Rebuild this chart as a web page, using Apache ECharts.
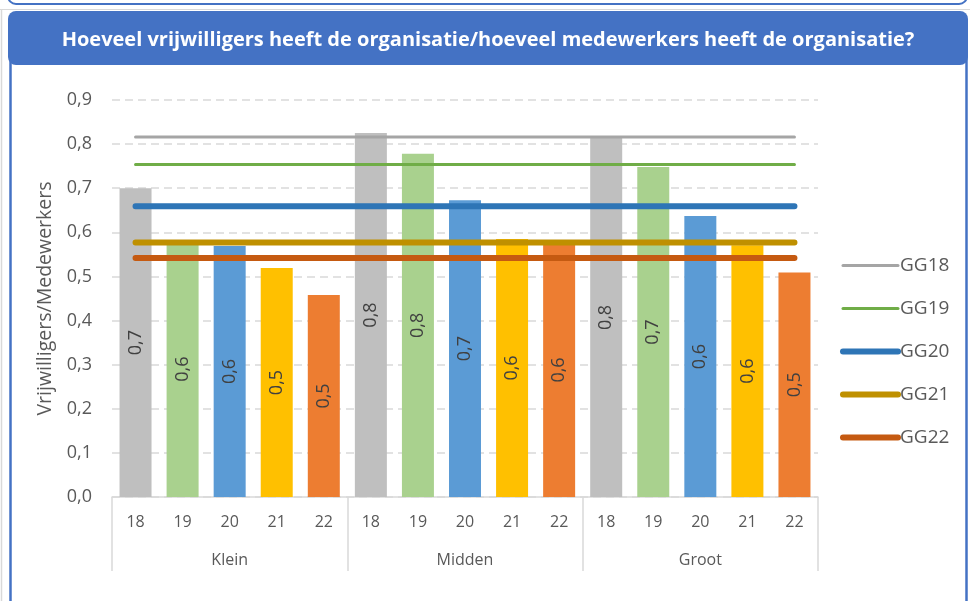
<!DOCTYPE html>
<html>
<head>
<meta charset="utf-8">
<style>
  html, body { margin: 0; padding: 0; background: #ffffff; }
  #chart { width: 970px; height: 601px; }
</style>
<script src="https://cdn.jsdelivr.net/npm/echarts@6/dist/echarts.min.js"></script>
</head>
<body>
<div id="chart"></div>
<script>
// Jaren (GG18 t/m GG22) en organisatiegrootte
const years = ['18', '19', '20', '21', '22'];
const groups = ['Klein', 'Midden', 'Groot'];

// Verhouding vrijwilligers/medewerkers per groep en jaar
const kleinValues  = [0.70, 0.58, 0.569, 0.519, 0.458];
const middenValues = [0.825, 0.778, 0.673, 0.585, 0.576];
const grootValues  = [0.814, 0.748, 0.637, 0.571, 0.509];

// Landelijk gemiddelde per jaar
const seriesNames = ['GG18', 'GG19', 'GG20', 'GG21', 'GG22'];
const averageValues = [0.816, 0.754, 0.659, 0.577, 0.542];

// Y-as
const yTicks = ['0,0', '0,1', '0,2', '0,3', '0,4', '0,5', '0,6', '0,7', '0,8', '0,9'];

const barColors  = ['#BFBFBF', '#A9D18E', '#5B9BD5', '#FFC000', '#ED7D31'];
const lineColors = ['#A5A5A5', '#70AD47', '#2E75B6', '#BF9000', '#C55A11'];
const lineWidths = [3, 3, 6, 6, 6];

const FONT = '"Open Sans", "Liberation Sans", sans-serif';
const TEXT = '#595959';

const categories = [];
groups.forEach(() => years.forEach(y => categories.push(y)));
const barValues = [].concat(kleinValues, middenValues, grootValues);

const barData = barValues.map((v, i) => ({
  value: v,
  itemStyle: { color: barColors[i % years.length] }
}));

const lineSeries = seriesNames.map((name, k) => ({
  name: name,
  type: 'line',
  xAxisIndex: 0,
  data: categories.map(() => averageValues[k]),
  symbol: 'none',
  color: lineColors[k],
  lineStyle: { color: lineColors[k], width: lineWidths[k], cap: 'round' },
  z: 5,
  silent: true
}));

const chart = echarts.init(document.getElementById('chart'), null, { renderer: 'canvas' });

chart.setOption({
  animation: false,
  backgroundColor: '#ffffff',
  textStyle: { fontFamily: FONT },
  graphic: [
    // kader van het vorige blok
    { type: 'rect', shape: { x: 8, y: -20, width: 959, height: 24, r: 8 },
      style: { fill: 'none', stroke: '#4472C4', lineWidth: 2 } },
    { type: 'line', shape: { x1: 0, y1: 9.5, x2: 970, y2: 9.5 },
      style: { stroke: '#D9D9D9', lineWidth: 1 } },
    { type: 'line', shape: { x1: 1.5, y1: 9.5, x2: 1.5, y2: 601 },
      style: { stroke: '#D9D9D9', lineWidth: 1.5 } },
    // zijranden van het kader
    { type: 'line', shape: { x1: 10.5, y1: 40, x2: 10.5, y2: 601 },
      style: { stroke: '#4472C4', lineWidth: 2.5 } },
    { type: 'line', shape: { x1: 966.5, y1: 40, x2: 966.5, y2: 601 },
      style: { stroke: '#4472C4', lineWidth: 2.5 } },
    // titelbalk
    { type: 'rect', shape: { x: 8, y: 11, width: 960, height: 54, r: 8 },
      style: { fill: '#4472C4' } },
    { type: 'text', x: 488, y: 40,
      style: { text: 'Hoeveel vrijwilligers heeft de organisatie/hoeveel medewerkers heeft de organisatie?',
               fill: '#ffffff', font: 'bold 20px ' + FONT, align: 'center', verticalAlign: 'middle' } }
  ],
  grid: { left: 112, right: 152, top: 100, bottom: 104, containLabel: false },
  legend: {
    data: seriesNames,
    orient: 'vertical',
    left: 840,
    top: 256,
    padding: 0,
    itemWidth: 55,
    itemHeight: 14,
    itemGap: 24,
    lineStyle: { width: 'inherit', cap: 'round' },
    itemStyle: { opacity: 0 },
    textStyle: { color: TEXT, fontSize: 19, lineHeight: 14, fontFamily: FONT, padding: [0, 0, 0, -3] }
  },
  xAxis: [
    {
      type: 'category',
      data: categories,
      position: 'bottom',
      axisLine: { show: true, lineStyle: { color: '#D9D9D9', width: 1.5 } },
      axisTick: { show: false },
      axisLabel: { color: TEXT, fontSize: 16, margin: 17, interval: 0 },
      splitLine: { show: false }
    },
    {
      type: 'category',
      data: groups,
      position: 'bottom',
      axisLine: { show: false },
      axisTick: { show: true, length: 74, interval: 0, lineStyle: { color: '#D9D9D9', width: 1.5 } },
      axisLabel: { color: TEXT, fontSize: 16, margin: 55, interval: 0 },
      splitLine: { show: false }
    }
  ],
  yAxis: {
    type: 'value',
    min: 0,
    max: 0.9,
    interval: 0.1,
    name: 'Vrijwilligers/Medewerkers',
    nameLocation: 'middle',
    nameGap: 54,
    nameTextStyle: { color: TEXT, fontSize: 19.5, fontFamily: FONT },
    axisLine: { show: false },
    axisTick: { show: false },
    axisLabel: {
      color: TEXT, fontSize: 18, margin: 20,
      formatter: v => yTicks[Math.round(v * 10)]
    },
    splitLine: { show: true, lineStyle: { color: '#D9D9D9', width: 1.5, type: [8, 5] } }
  },
  series: [
    {
      type: 'bar',
      name: 'waarden',
      xAxisIndex: 0,
      data: barData,
      barWidth: 32,
      z: 2,
      label: {
        show: true,
        position: 'inside',
        rotate: 90,
        color: '#404040',
        fontSize: 18,
        fontFamily: FONT,
        formatter: p => p.value.toFixed(1).replace('.', ',')
      }
    }
  ].concat(lineSeries)
});
</script>
</body>
</html>
